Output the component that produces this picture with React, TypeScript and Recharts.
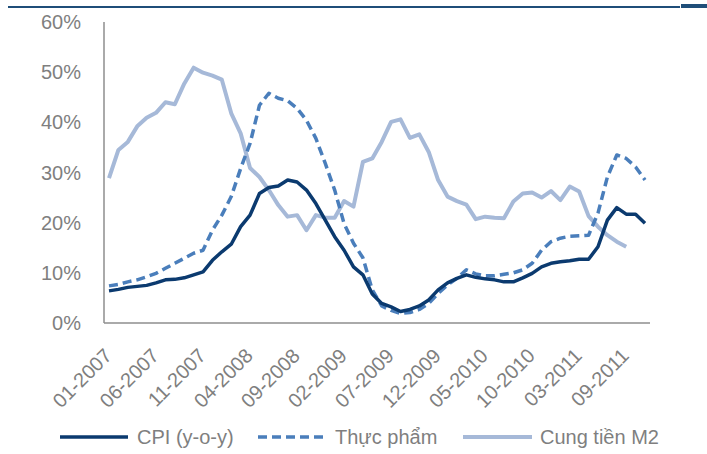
import React from "react";
import { LineChart, Line, XAxis, YAxis } from "recharts";

const months = [
  "01-2007","02-2007","03-2007","04-2007","05-2007","06-2007","07-2007","08-2007","09-2007","10-2007","11-2007","12-2007",
  "01-2008","02-2008","03-2008","04-2008","05-2008","06-2008","07-2008","08-2008","09-2008","10-2008","11-2008","12-2008",
  "01-2009","02-2009","03-2009","04-2009","05-2009","06-2009","07-2009","08-2009","09-2009","10-2009","11-2009","12-2009",
  "01-2010","02-2010","03-2010","04-2010","05-2010","06-2010","07-2010","08-2010","09-2010","10-2010","11-2010","12-2010",
  "01-2011","02-2011","03-2011","05-2011","06-2011","07-2011","08-2011","09-2011","10-2011","11-2011",
];

const tickLabels = [
  "01-2007","06-2007","11-2007","04-2008","09-2008","02-2009","07-2009","12-2009","05-2010","10-2010","03-2011","09-2011",
];

const cpi = [
  6.4, 6.7, 7.1, 7.3, 7.5, 8.0, 8.6, 8.7, 9.0, 9.6,
  10.2, 12.5, 14.2, 15.7, 19.2, 21.5, 25.8, 27.0, 27.3, 28.5,
  28.1, 26.5, 23.8, 20.5, 17.2, 14.5, 11.2, 9.6, 5.8, 3.9,
  3.2, 2.3, 2.7, 3.4, 4.6, 6.6, 8.0, 8.9, 9.6, 9.1,
  8.8, 8.6, 8.2, 8.2, 9.0, 9.9, 11.2, 11.9, 12.2, 12.4,
  12.7, 12.7, 15.2, 20.5, 23.0, 21.7, 21.7, 19.9,
];

const food = [
  7.4, 7.7, 8.2, 8.6, 9.2, 9.9, 10.9, 11.9, 12.9, 13.9,
  14.5, 18.5, 21.5, 25.2, 30.8, 35.8, 43.4, 45.8, 44.8, 44.3,
  42.8, 40.4, 36.8, 31.8, 26.5, 19.8, 15.9, 13.0, 6.6, 3.4,
  2.5, 1.9, 2.1, 2.7, 3.9, 5.9, 7.6, 8.9, 10.6, 9.8,
  9.4, 9.4, 9.7, 10.0, 10.6, 11.9, 14.5, 16.2, 16.9, 17.3,
  17.4, 17.5, 21.9, 29.1, 33.5, 32.8, 31.1, 28.5,
];

const m2 = [
  28.9, 34.5, 36.1, 39.2, 40.9, 41.9, 44.0, 43.6, 47.7, 50.9,
  49.9, 49.3, 48.5, 41.8, 37.8, 30.9, 29.1, 26.5, 23.5, 21.2,
  21.5, 18.5, 21.5, 21.0, 21.0, 24.3, 23.2, 32.1, 32.8, 36.1,
  40.1, 40.6, 36.9, 37.6, 34.1, 28.5, 25.2, 24.3, 23.6, 20.7,
  21.2, 21.0, 20.9, 24.2, 25.8, 26.0, 25.0, 26.3, 24.5, 27.2,
  26.2, 21.3, 19.2, 17.5, 16.2, 15.2,
];

const yTicks = [0, 10, 20, 30, 40, 50, 60];

const seriesNames = ["CPI (y-o-y)", "Thực phẩm", "Cung tiền M2"];
const colors = { cpi: "#0b3a6f", food: "#4a7ebb", m2: "#a6b9d8" };

const data = months.map((m, i) => ({
  month: m,
  cpi: cpi[i],
  food: food[i],
  m2: i < m2.length ? m2[i] : null,
}));

const FONT = "'Liberation Sans', Arial, sans-serif";
const GREY = "#7f7f7f";
const FS = 20;

const XTick = (props: any) => {
  const { x, y, payload } = props;
  if (!tickLabels.includes(payload.value)) return null;
  const ax = x + 4;
  const ay = y + 26;
  return (
    <text
      x={ax}
      y={ay}
      textAnchor="end"
      transform={`rotate(-45, ${ax}, ${ay})`}
      fill={GREY}
      fontSize={FS}
      fontFamily={FONT}
    >
      {payload.value}
    </text>
  );
};

export default function App() {
  return (
    <div style={{ position: "fixed", left: 0, top: 0, width: 707, height: 454, background: "#fff" }}>
      <div style={{ position: "absolute", left: 8, top: 6, width: 672, height: 2, background: "#1f4e79" }} />
      <div style={{ position: "absolute", left: 681, top: 4, width: 26, height: 4, background: "#1f4e79" }} />
      <LineChart
        width={707}
        height={454}
        data={data}
        margin={{ top: 22, right: 57, bottom: 0, left: 0 }}
      >
        <XAxis
          dataKey="month"
          interval={0}
          tick={<XTick />}
          tickLine={false}
          axisLine={{ stroke: "#8e8e8e", strokeWidth: 1.5 }}
          height={131}
          padding={{ left: 5, right: 5 }}
        />
        <YAxis
          domain={[0, 60]}
          ticks={yTicks}
          tickFormatter={(v: number) => `${v}%`}
          tickLine={false}
          tickSize={6}
          tickMargin={17}
          width={104}
          axisLine={{ stroke: "#8e8e8e", strokeWidth: 1.5 }}
          tick={{ fill: GREY, fontSize: FS, fontFamily: FONT }}
        />
        <Line
          dataKey="m2"
          name={seriesNames[2]}
          stroke={colors.m2}
          strokeWidth={4}
          dot={false}
          isAnimationActive={false}
          strokeLinejoin="round"
        />
        <Line
          dataKey="food"
          name={seriesNames[1]}
          stroke={colors.food}
          strokeWidth={3.5}
          strokeDasharray="9 5"
          dot={false}
          isAnimationActive={false}
          strokeLinejoin="round"
        />
        <Line
          dataKey="cpi"
          name={seriesNames[0]}
          stroke={colors.cpi}
          strokeWidth={3.5}
          dot={false}
          isAnimationActive={false}
          strokeLinejoin="round"
        />
      </LineChart>
      <svg
        width={707}
        height={40}
        style={{ position: "absolute", left: 0, top: 418 }}
      >
        <line x1={60} x2={128} y1={19} y2={19} stroke={colors.cpi} strokeWidth={3.5} />
        <text x={137} y={19} dominantBaseline="central" fill={GREY} fontSize={FS} fontFamily={FONT}>
          {seriesNames[0]}
        </text>
        <line x1={258} x2={328} y1={19} y2={19} stroke={colors.food} strokeWidth={3.5} strokeDasharray="9 5" />
        <text x={335} y={19} dominantBaseline="central" fill={GREY} fontSize={FS} fontFamily={FONT}>
          {seriesNames[1]}
        </text>
        <line x1={463} x2={532} y1={19} y2={19} stroke={colors.m2} strokeWidth={4} />
        <text x={540} y={19} dominantBaseline="central" fill={GREY} fontSize={FS} fontFamily={FONT}>
          {seriesNames[2]}
        </text>
      </svg>
    </div>
  );
}
